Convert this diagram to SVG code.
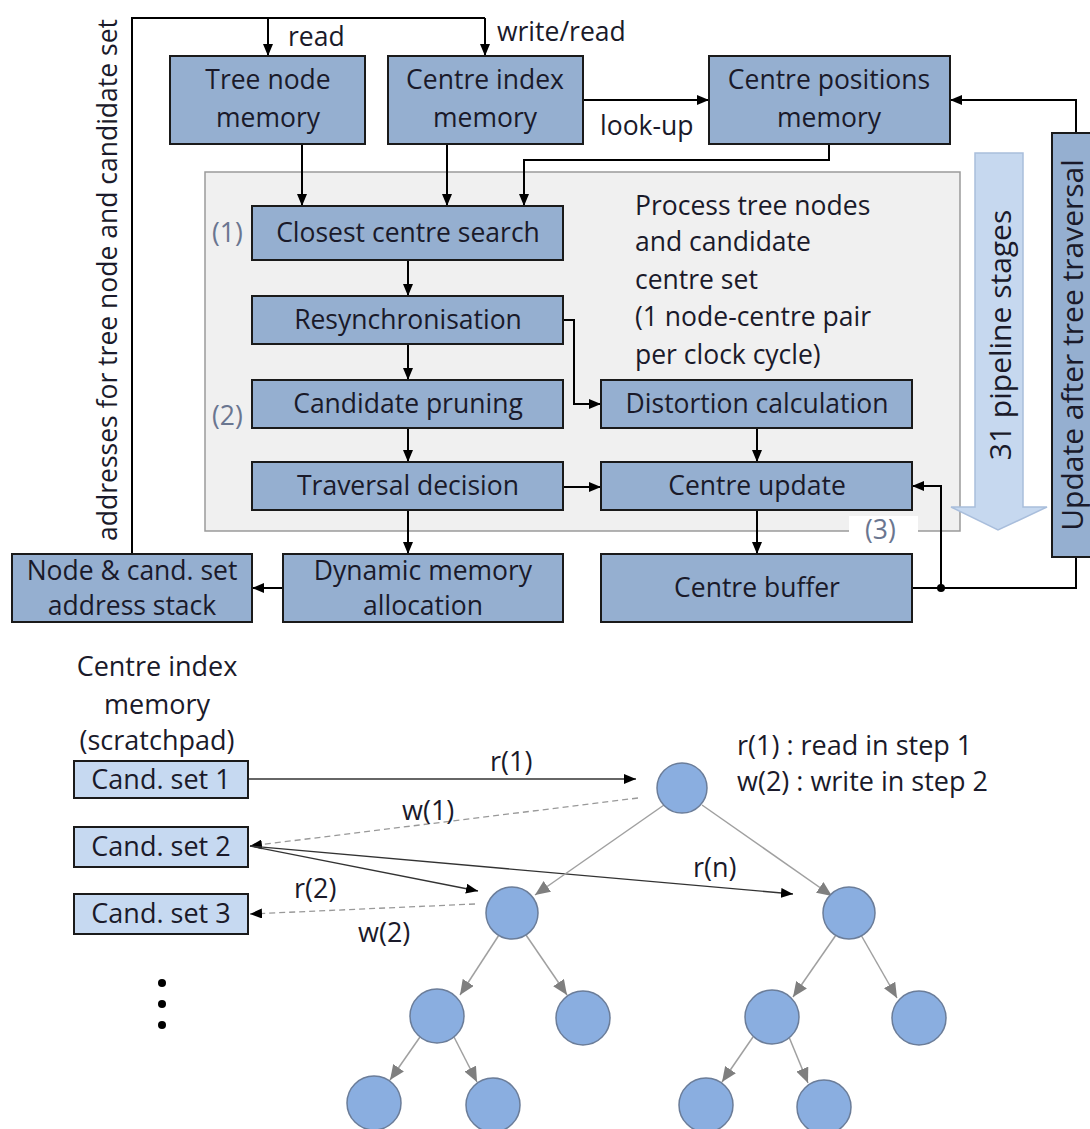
<svg xmlns="http://www.w3.org/2000/svg" width="1090" height="1129" viewBox="0 0 1090 1129">
  <defs>
    <marker id="ah" viewBox="0 0 12 10" refX="12" refY="5" markerWidth="12" markerHeight="10" markerUnits="userSpaceOnUse" orient="auto">
      <path d="M0,0 L12,5 L0,10 Z" fill="#000"/>
    </marker>
    <marker id="ahg" viewBox="0 0 15 13" refX="15" refY="6.5" markerWidth="15" markerHeight="13" markerUnits="userSpaceOnUse" orient="auto">
      <path d="M0,0 L15,6.5 L0,13 Z" fill="#7f7f7f"/>
    </marker>
    <style>
      text { font-family: "Open Sans", "Noto Sans", sans-serif; font-size: 26.5px; fill: #1a1a2a; }
      .sm { font-size: 27px; }
      .big { font-size: 30px; }
      .blk { fill: #95afd0; stroke: #1a1a1a; stroke-width: 2; }
      .cand { fill: #c6d9f1; stroke: #1a1a1a; stroke-width: 2; }
      .c { text-anchor: middle; }
      .tag { fill: #6a7690; }
      .wire { fill: none; stroke: #000; stroke-width: 2; }
      .wire-a { fill: none; stroke: #000; stroke-width: 2; marker-end: url(#ah); }
      .thin-a { fill: none; stroke: #333; stroke-width: 1.3; marker-end: url(#ah); }
      .dash-a { fill: none; stroke: #999; stroke-width: 1.3; stroke-dasharray: 6 4; marker-end: url(#ah); }
      .tree { fill: none; stroke: #a0a0a0; stroke-width: 1.5; marker-end: url(#ahg); }
      .node { fill: #8aaee0; stroke: #6b7d99; stroke-width: 1.5; }
    </style>
  </defs>

  <!-- pipeline region -->
  <rect x="205" y="172" width="755" height="359" fill="#f0f0f0" stroke="#9a9a9a" stroke-width="1.5"/>
  <rect x="849" y="516" width="69" height="30" fill="#ffffff"/>

  <!-- pipeline depth arrow -->
  <g id="pipeline-arrow">
    <path d="M975,153 L1023,153 L1023,507 L1047,507 L998,530 L951,507 L975,507 Z" fill="#c6d8ef" stroke="#a9bedc" stroke-width="1.5"/>
    <text transform="translate(1011,335) rotate(-90)" class="c big">31 pipeline stages</text>
  </g>

  <!-- connectors -->
  <g id="connectors">
    <!-- address feedback loop -->
    <path class="wire" d="M132,554 L132,18 L485,18"/>
    <path class="wire-a" d="M268,18 L268,56"/>
    <path class="wire-a" d="M485,18 L485,56"/>
    <!-- memory reads -->
    <path class="wire-a" d="M583,100 L709,100"/>
    <path class="wire-a" d="M302,144 L302,206"/>
    <path class="wire-a" d="M447,144 L447,206"/>
    <path class="wire-a" d="M829,144 L829,160 L524,160 L524,206"/>
    <!-- pipeline chain -->
    <path class="wire-a" d="M408,260 L408,296"/>
    <path class="wire-a" d="M408,344 L408,380"/>
    <path class="wire-a" d="M408,428 L408,462"/>
    <path class="wire-a" d="M408,510 L408,554"/>
    <path class="wire-a" d="M563,320 L574,320 L574,404 L601,404"/>
    <path class="wire-a" d="M563,487 L601,487"/>
    <path class="wire-a" d="M757,428 L757,462"/>
    <path class="wire-a" d="M757,510 L757,554"/>
    <path class="wire-a" d="M283,588 L252,588"/>
    <!-- centre buffer outputs -->
    <path class="wire" d="M912,588 L1076,588 L1076,557"/>
    <path class="wire-a" d="M941,588 L941,486 L912,486"/>
    <circle cx="941" cy="588" r="4" fill="#000"/>
    <path class="wire-a" d="M1076,133 L1076,100 L950,100"/>

    <!-- scratchpad accesses -->
    <path class="thin-a" d="M248,779 L636,779"/>
    <path class="dash-a" d="M638,798 L250,846"/>
    <path class="thin-a" d="M250,846 L478,891"/>
    <path class="thin-a" d="M250,846 L793,894"/>
    <path class="dash-a" d="M475,904 L250,914"/>

    <!-- tree edges -->
    <path class="tree" d="M664,805 L535,895"/>
    <path class="tree" d="M702,805 L832,896"/>
    <path class="tree" d="M499,935 L460,995"/>
    <path class="tree" d="M526,935 L567,995"/>
    <path class="tree" d="M836,935 L793,997"/>
    <path class="tree" d="M861,935 L897,998"/>
    <path class="tree" d="M420,1037 L390,1080"/>
    <path class="tree" d="M454,1037 L477,1082"/>
    <path class="tree" d="M753,1037 L722,1082"/>
    <path class="tree" d="M789,1037 L808,1083"/>
  </g>

  <!-- memories -->
  <g id="tree-node-memory">
    <rect class="blk" x="170" y="56" width="195" height="88"/>
    <text class="c" x="268" y="89">Tree node</text>
    <text class="c" x="268" y="127">memory</text>
  </g>
  <g id="centre-index-memory">
    <rect class="blk" x="388" y="56" width="195" height="88"/>
    <text class="c" x="485" y="89">Centre index</text>
    <text class="c" x="485" y="127">memory</text>
  </g>
  <g id="centre-positions-memory">
    <rect class="blk" x="709" y="56" width="241" height="88"/>
    <text class="c" x="829" y="89">Centre positions</text>
    <text class="c" x="829" y="127">memory</text>
  </g>
  <g id="update-after-traversal">
    <rect class="blk" x="1052" y="133" width="50" height="424"/>
    <text transform="translate(1083,345) rotate(-90)" class="c big">Update after tree traversal</text>
  </g>

  <!-- pipeline stages -->
  <g id="closest-centre-search">
    <rect class="blk" x="252" y="206" width="311" height="54"/>
    <text class="c" x="408" y="242">Closest centre search</text>
  </g>
  <g id="resynchronisation">
    <rect class="blk" x="252" y="296" width="311" height="48"/>
    <text class="c" x="408" y="329">Resynchronisation</text>
  </g>
  <g id="candidate-pruning">
    <rect class="blk" x="252" y="380" width="311" height="48"/>
    <text class="c" x="408" y="413">Candidate pruning</text>
  </g>
  <g id="traversal-decision">
    <rect class="blk" x="252" y="462" width="311" height="48"/>
    <text class="c" x="408" y="495">Traversal decision</text>
  </g>
  <g id="distortion-calculation">
    <rect class="blk" x="601" y="380" width="311" height="48"/>
    <text class="c" x="757" y="413">Distortion calculation</text>
  </g>
  <g id="centre-update">
    <rect class="blk" x="601" y="462" width="311" height="48"/>
    <text class="c" x="757" y="495">Centre update</text>
  </g>
  <g id="dynamic-memory-allocation">
    <rect class="blk" x="283" y="554" width="280" height="68"/>
    <text class="c" x="423" y="580">Dynamic memory</text>
    <text class="c" x="423" y="615">allocation</text>
  </g>
  <g id="centre-buffer">
    <rect class="blk" x="601" y="554" width="311" height="68"/>
    <text class="c" x="757" y="597">Centre buffer</text>
  </g>
  <g id="address-stack">
    <rect class="blk" x="12" y="554" width="240" height="68"/>
    <text class="c" x="132" y="580">Node &amp; cand. set</text>
    <text class="c" x="132" y="615">address stack</text>
  </g>

  <!-- labels -->
  <g id="labels">
    <text x="288" y="46">read</text>
    <text x="497" y="41">write/read</text>
    <text x="600" y="135">look-up</text>
    <text transform="translate(117,280) rotate(-90)" class="c">addresses for tree node and candidate set</text>
    <text class="tag" x="212" y="242">(1)</text>
    <text class="tag" x="212" y="425">(2)</text>
    <text class="tag" x="865" y="539">(3)</text>
    <text x="635" y="215">Process tree nodes</text>
    <text x="635" y="251">and candidate</text>
    <text x="635" y="289">centre set</text>
    <text x="635" y="326">(1 node-centre pair</text>
    <text x="635" y="364">per clock cycle)</text>
  </g>

  <!-- scratchpad -->
  <g id="scratchpad">
    <text class="c sm" x="157" y="676">Centre index</text>
    <text class="c sm" x="157" y="714">memory</text>
    <text class="c sm" x="157" y="750">(scratchpad)</text>
  </g>
  <g id="cand-set-1">
    <rect class="cand" x="74" y="761" width="174" height="37"/>
    <text class="c sm" x="161" y="789">Cand. set 1</text>
  </g>
  <g id="cand-set-2">
    <rect class="cand" x="74" y="827" width="174" height="40"/>
    <text class="c sm" x="161" y="856">Cand. set 2</text>
  </g>
  <g id="cand-set-3">
    <rect class="cand" x="74" y="894" width="174" height="40"/>
    <text class="c sm" x="161" y="923">Cand. set 3</text>
  </g>
  <g id="ellipsis">
    <circle cx="162" cy="983" r="4" fill="#000"/>
    <circle cx="162" cy="1004" r="4" fill="#000"/>
    <circle cx="162" cy="1025" r="4" fill="#000"/>
  </g>

  <g id="access-labels">
    <text class="sm" x="490" y="771">r(1)</text>
    <text class="sm" x="402" y="820">w(1)</text>
    <text class="sm" x="693" y="877">r(n)</text>
    <text class="sm" x="294" y="898">r(2)</text>
    <text class="sm" x="358" y="942">w(2)</text>
    <text class="sm" x="737" y="755">r(1) : read in step 1</text>
    <text class="sm" x="737" y="791">w(2) : write in step 2</text>
  </g>

  <!-- search tree -->
  <g id="tree-nodes">
    <circle class="node" cx="682" cy="788" r="25"/>
    <circle class="node" cx="512" cy="913" r="26"/>
    <circle class="node" cx="849" cy="913" r="26"/>
    <circle class="node" cx="437" cy="1016" r="27"/>
    <circle class="node" cx="583" cy="1018" r="27"/>
    <circle class="node" cx="772" cy="1017" r="27"/>
    <circle class="node" cx="919" cy="1018" r="27"/>
    <circle class="node" cx="374" cy="1103" r="27"/>
    <circle class="node" cx="493" cy="1105" r="27"/>
    <circle class="node" cx="706" cy="1105" r="27"/>
    <circle class="node" cx="824" cy="1107" r="27"/>
  </g>
</svg>
